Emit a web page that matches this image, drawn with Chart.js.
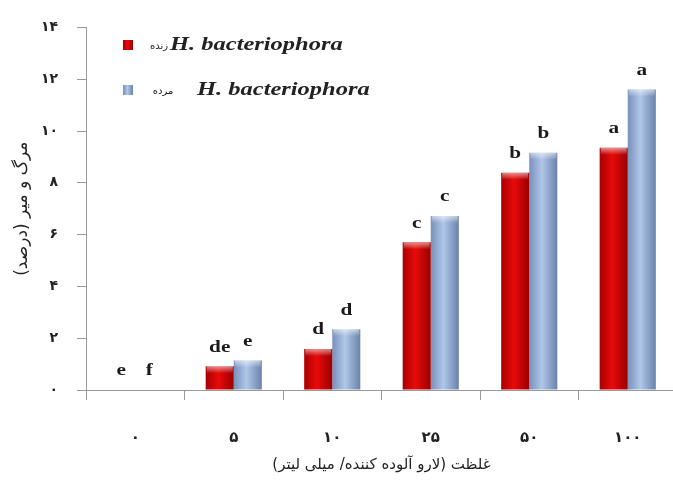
<!DOCTYPE html>
<html>
<head>
<meta charset="utf-8">
<script src="https://cdn.jsdelivr.net/npm/chart.js@4"></script>
<style>
html,body{margin:0;padding:0;background:#fff;overflow:hidden;}
#wrap{position:relative;width:680px;height:483px;}
</style>
</head>
<body>
<div id="wrap"><canvas id="c"></canvas></div>
<script>
// ---- data ----
const categories = ['۰', '۵', '۱۰', '۲۵', '۵۰', '۱۰۰'];
const aliveValues = [0, 0.92, 1.58, 5.70, 8.39, 9.35];
const deadValues = [0, 1.14, 2.35, 6.72, 9.16, 11.6];
const aliveLetters = ['e', 'de', 'd', 'c', 'b', 'a'];
const deadLetters = ['f', 'e', 'd', 'c', 'b', 'a'];
const seriesStates = ['زنده', 'مرده'];
const speciesName = 'H. bacteriophora';
const yTitle = 'مرگ و میر (درصد)';
const xTitle = 'غلظت (لارو آلوده کننده/ میلی لیتر)';
const yMin = 0, yMax = 14, yStep = 2;

const faDigits = '۰۱۲۳۴۵۶۷۸۹';
const toFa = v => String(v).replace(/\d/g, d => faDigits[+d]);

const palettes = [
  ['#a80000', '#e80a0a', '#9a0000'],
  ['#7890bb', '#b0c7e8', '#6a82ac']
];
const letterSets = [aliveLetters, deadLetters];

function stretchedText(ctx, text, x, y, sx) {
  ctx.save();
  ctx.translate(x, y);
  ctx.scale(sx, 1);
  ctx.fillText(text, 0, 0);
  ctx.restore();
}

const decor = {
  id: 'decor',
  beforeDatasetsDraw(chart) {
    const ctx = chart.ctx;
    chart.data.datasets.forEach((ds, i) => {
      const meta = chart.getDatasetMeta(i);
      meta.data.forEach(el => {
        const p = el.getProps(['x', 'width'], true);
        const g = ctx.createLinearGradient(p.x - p.width / 2, 0, p.x + p.width / 2, 0);
        const c = palettes[i];
        g.addColorStop(0, c[0]);
        g.addColorStop(0.45, c[1]);
        g.addColorStop(1, c[2]);
        el.options = Object.assign({}, el.options, { backgroundColor: g });
      });
    });
  },
  afterDatasetsDraw(chart) {
    const ctx = chart.ctx;
    ctx.save();
    chart.data.datasets.forEach((ds, i) => {
      const meta = chart.getDatasetMeta(i);
      meta.data.forEach((el, j) => {
        const p = el.getProps(['x', 'y', 'base', 'width'], true);
        const h = p.base - p.y;
        if (h > 3) {
          const g = ctx.createLinearGradient(0, p.y, 0, p.y + 7);
          g.addColorStop(0, 'rgba(255,255,255,0.55)');
          g.addColorStop(1, 'rgba(255,255,255,0)');
          ctx.fillStyle = g;
          ctx.fillRect(p.x - p.width / 2 + 1, p.y, p.width - 2, Math.min(7, h));
        }
        ctx.fillStyle = '#1a1a1a';
        ctx.font = 'bold 17px "Liberation Serif"';
        ctx.textAlign = 'center';
        ctx.textBaseline = 'middle';
        stretchedText(ctx, letterSets[i][j], p.x, p.y - 19, 1.25);
      });
    });
    // legend
    const rows = [45, 90];
    const stateX = [159, 163];
    const nameX = [170, 197];
    chart.data.datasets.forEach((ds, i) => {
      const y = rows[i];
      const g = ctx.createLinearGradient(123, 0, 133, 0);
      g.addColorStop(0, palettes[i][0]);
      g.addColorStop(0.45, palettes[i][1]);
      g.addColorStop(1, palettes[i][2]);
      ctx.fillStyle = g;
      ctx.fillRect(123, y - 5, 10, 10);
      ctx.fillStyle = '#222';
      ctx.font = '10px "DejaVu Sans"';
      ctx.textAlign = 'center';
      ctx.textBaseline = 'middle';
      ctx.fillText(seriesStates[i], stateX[i], y + 1);
      ctx.font = 'bold italic 18px "Liberation Serif"';
      ctx.textAlign = 'left';
      stretchedText(ctx, speciesName, nameX[i], y, 1.36);
    });
    ctx.restore();
  }
};

new Chart(document.getElementById('c'), {
  type: 'bar',
  data: {
    labels: categories,
    datasets: [
      { label: seriesStates[0] + ' ' + speciesName, data: aliveValues, backgroundColor: palettes[0][1] },
      { label: seriesStates[1] + ' ' + speciesName, data: deadValues, backgroundColor: palettes[1][1] }
    ]
  },
  options: {
    responsive: true,
    maintainAspectRatio: false,
    animation: false,
    layout: { padding: { top: 22, right: 3, left: 0, bottom: 0 } },
    datasets: { bar: { categoryPercentage: 0.57, barPercentage: 1.0 } },
    plugins: { legend: { display: false }, tooltip: { enabled: false } },
    scales: {
      x: {
        grid: { display: true, offset: true, drawOnChartArea: false, tickLength: 10, color: '#9a9a9a' },
        border: { color: '#9a9a9a' },
        ticks: { color: '#222', padding: 29, font: { family: 'DejaVu Sans', size: 15, weight: 'bold' } },
        title: { display: true, text: xTitle, color: '#222', padding: { top: 0, bottom: 9 }, font: { family: 'DejaVu Sans', size: 15 } },
        afterFit(s) { s.height = 93; }
      },
      y: {
        min: yMin, max: yMax,
        grid: { display: true, drawOnChartArea: false, tickLength: 9, color: '#9a9a9a' },
        border: { color: '#9a9a9a' },
        ticks: { stepSize: yStep, color: '#222', padding: 19, font: { family: 'DejaVu Sans', size: 14, weight: 'bold' }, callback: v => toFa(v) },
        title: { display: true, text: yTitle, color: '#222', padding: { top: 12, bottom: 0 }, font: { family: 'DejaVu Sans', size: 17 } },
        afterFit(s) { s.width = 86; }
      }
    }
  },
  plugins: [decor]
});
</script>
</body>
</html>
